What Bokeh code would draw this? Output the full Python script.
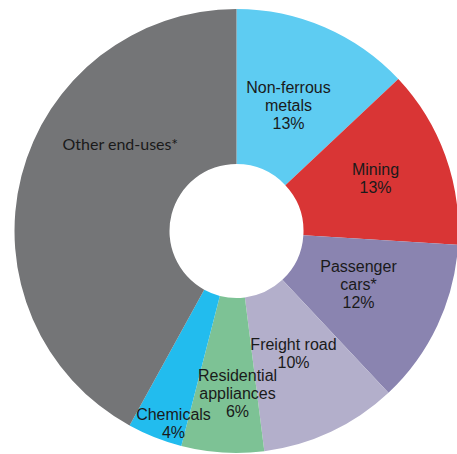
import numpy as np
from bokeh.plotting import figure
from bokeh.models import Range1d, ColumnDataSource
from bokeh.core.properties import value
from bokeh.embed import file_html
from bokeh.resources import INLINE

# Data
categories = ["Non-ferrous metals", "Mining", "Passenger cars*", "Freight road",
              "Residential appliances", "Chemicals", "Other end-uses*"]
shares = [13, 13, 12, 10, 6, 4, 42]
label_lines = [["Non-ferrous", "metals", "13%"],
               ["Mining", "13%"],
               ["Passenger", "cars*", "12%"],
               ["Freight road", "10%"],
               ["Residential", "appliances", "6%"],
               ["Chemicals", "4%"],
               ["Other end-uses*"]]
colors = ["#5ECCF2", "#D93535", "#8A84B0", "#B3AFCB", "#7DC295", "#22BCEE", "#747577"]

# Layout (pixel units)
W, H = 457, 454
CX, CY = 236, 230.5          # centre in figure pixels from top-left
R_OUT, R_IN = 222, 67
# label centres relative to donut centre (pixels, y up)
label_centers = [(52, 126), (139, 53), (122, -53), (57, -122), (1, -162), (-63, -192), (-116, 88)]
line_step = 18

p = figure(width=W, height=H, output_backend="svg", toolbar_location=None,
           x_range=Range1d(-CX, W - CX), y_range=Range1d(-(H - CY), CY),
           min_border=0, outline_line_color=None, background_fill_color="white",
           border_fill_color="white")
p.axis.visible = False
p.grid.visible = False

tot = float(sum(shares))
cum = np.concatenate([[0], np.cumsum(shares)]) / tot
start = np.pi / 2 - cum[:-1] * 2 * np.pi
end = np.pi / 2 - cum[1:] * 2 * np.pi
src = ColumnDataSource(dict(start=start, end=end, color=colors))
p.annular_wedge(x=0, y=0, inner_radius=R_IN, outer_radius=R_OUT,
                start_angle="start", end_angle="end", direction="clock",
                fill_color="color", line_color=None, source=src)

xs, ys, ts = [], [], []
for (cx, cy), lines in zip(label_centers, label_lines):
    n = len(lines)
    for i, t in enumerate(lines):
        xs.append(cx)
        ys.append(cy + (n - 1) / 2 * line_step - i * line_step)
        ts.append(t)
p.text(x=xs[:-1], y=ys[:-1], text=ts[:-1], text_font=value("Liberation Sans"),
       text_font_size="16px", text_align="center", text_baseline="middle",
       text_color="#1a1a1a")
p.text(x=[xs[-1]], y=[ys[-1]], text=[ts[-1]], text_font=value("Lato"),
       text_font_size="16px", text_align="center", text_baseline="middle",
       text_color="#1a1a1a")

open("out.html", "w").write(file_html(p, INLINE))
